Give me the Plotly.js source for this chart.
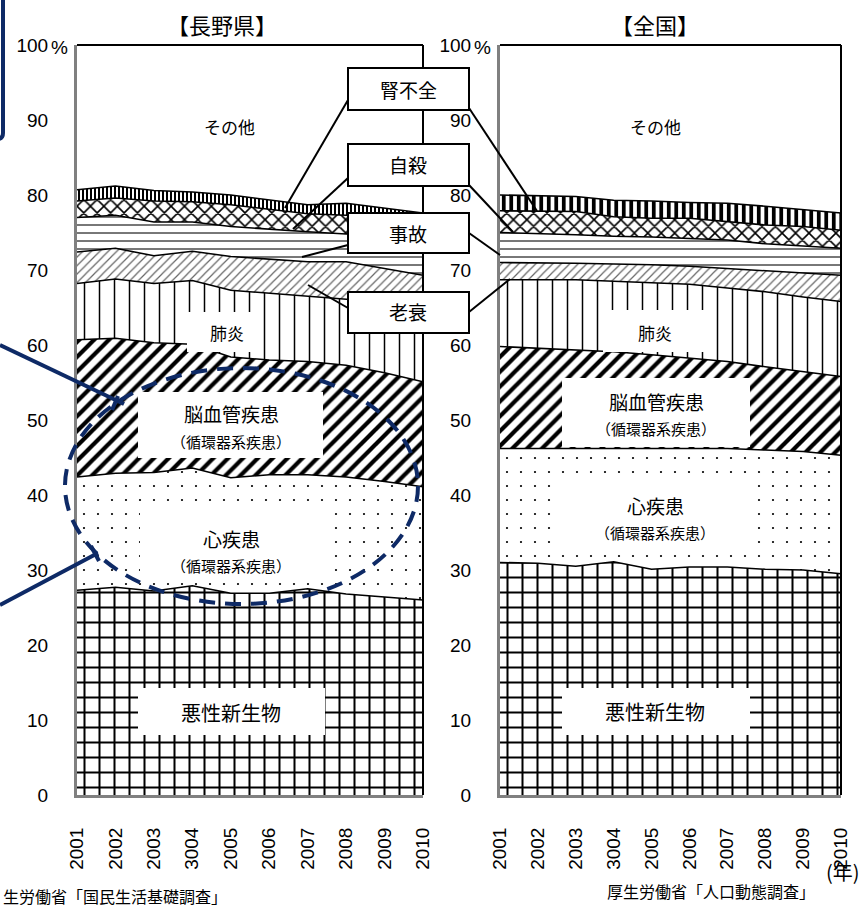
<!DOCTYPE html>
<html><head><meta charset="utf-8">
<script src="https://cdn.plot.ly/plotly-3.0.1.min.js"></script>
<style>html,body{margin:0;padding:0;background:#fff}#chart{width:866px;height:909px}</style>
</head><body><div id="chart"></div>
<script>
// ---- data (percent share of deaths by cause) ----
const yearLabels = ['2001','2002','2003','3004','2005','2006','2007','2008','2009','2010'];
const causeNames = ['悪性新生物','心疾患','脳血管疾患','肺炎','老衰','事故','自殺','腎不全','その他'];

const naganoCancer   = [27.3,27.7,27.2,27.9,26.9,26.9,27.5,26.8,26.4,26.0];
const naganoHeart    = [15.1,15.2,15.8,15.7,15.4,15.8,15.2,15.6,15.4,15.1];
const naganoStroke   = [18.3,18.0,17.3,16.5,16.1,15.3,15.1,14.9,14.5,14.0];
const naganoPneu     = [7.5,7.9,7.9,8.5,8.9,8.9,8.7,8.9,9.5,10.2];
const naganoOldAge   = [4.2,4.1,3.7,3.9,4.5,4.5,4.6,4.9,4.4,4.0];
const naganoAccident = [4.6,4.4,4.5,3.9,4.0,4.0,4.0,3.7,4.3,4.9];
const naganoSuicide  = [2.2,2.3,2.8,2.7,2.9,2.7,2.4,2.5,2.6,2.6];
const naganoRenal    = [1.5,1.6,1.4,1.3,1.3,1.2,1.2,1.6,1.1,0.8];
const naganoOther    = [19.3,18.8,19.4,19.6,20.0,20.7,21.3,21.1,21.8,22.4];

const japanCancer   = [31.0,30.9,30.5,31.1,30.1,30.4,30.4,30.1,30.0,29.5];
const japanHeart    = [15.2,15.3,15.7,15.1,16.0,15.8,15.8,15.9,15.8,15.8];
const japanStroke   = [13.6,13.4,13.1,12.9,12.6,12.0,11.6,11.1,10.6,10.5];
const japanPneu     = [8.9,9.1,9.4,9.4,9.6,9.9,9.8,10.0,10.0,10.0];
const japanOldAge   = [2.3,2.3,2.2,2.3,2.4,2.4,2.6,2.8,3.2,3.5];
const japanAccident = [4.0,3.9,3.8,3.7,3.7,3.7,3.8,3.6,3.6,3.6];
const japanSuicide  = [2.9,3.0,3.1,2.6,2.5,2.7,2.4,2.5,2.6,2.4];
const japanRenal    = [2.1,2.0,2.0,2.2,2.3,2.1,2.5,2.5,2.2,2.3];
const japanOther    = [20.0,20.1,20.2,20.7,20.8,21.0,21.1,21.5,22.0,22.4];

const yTickVals = [0,10,20,30,40,50,60,70,80,90,100];
const yTickText = ['0','10','20','30','40','50','60','70','80','90','100'];

// ---- styles ----
const W = 866, H = 909;
const px = x => x / W;
const py = y => 1 - y / H;
const NAVY = '#0e2a66';
const LAT = 'Liberation Sans, Arial, sans-serif';
const JP = 'Noto Sans CJK JP, sans-serif';

function patterns(renalSize) {
  return [
    {shape:'+', size:15, solidity:0.25, fgcolor:'#000', bgcolor:'#fff'},
    {shape:'.', size:14, solidity:0.02, fgcolor:'#000', bgcolor:'#fff'},
    {shape:'/', size:10.5, solidity:0.4, fgcolor:'#000', bgcolor:'#fff'},
    {shape:'|', size:15, solidity:0.1, fgcolor:'#000', bgcolor:'#fff'},
    {shape:'/', size:6, solidity:0.2, fgcolor:'#666', bgcolor:'#fff'},
    {shape:'-', size:8, solidity:0.2, fgcolor:'#555', bgcolor:'#fff'},
    {shape:'x', size:9.5, solidity:0.3, fgcolor:'#000', bgcolor:'#fff'},
    {shape:'|', size:renalSize, solidity:0.5, fgcolor:'#000', bgcolor:'#fff'},
    null
  ];
}

function buildTraces(series, xa, ya, group, renalSize) {
  const pats = patterns(renalSize);
  return series.map((vals, i) => {
    const t = {
      x: yearLabels, y: vals, name: causeNames[i], type: 'scatter', mode: 'lines',
      stackgroup: group, xaxis: xa, yaxis: ya,
      line: {color: '#000', width: i === 8 ? 0 : 1.6},
      fillcolor: '#ffffff', hoverinfo: 'skip', showlegend: false
    };
    if (pats[i]) t.fillpattern = pats[i];
    return t;
  });
}

const traces = [
  ...buildTraces([naganoCancer,naganoHeart,naganoStroke,naganoPneu,naganoOldAge,naganoAccident,naganoSuicide,naganoRenal,naganoOther],'x','y','nagano',4),
  ...buildTraces([japanCancer,japanHeart,japanStroke,japanPneu,japanOldAge,japanAccident,japanSuicide,japanRenal,japanOther],'x2','y2','japan',7.5)
];

function xAxis(dom, anchor) {
  return {domain: dom, anchor: anchor, type: 'category', range: [0, 9], tickangle: -90,
    showline: true, linecolor: '#808080', linewidth: 3, ticks: '', showgrid: false,
    zeroline: false, ticklabelstandoff: 22, tickfont: {family: LAT, size: 19, color: '#000'}, fixedrange: true};
}
function yAxis(anchor) {
  return {domain: [py(795), py(45)], anchor: anchor, range: [0, 100], tickvals: yTickVals, ticktext: yTickText,
    showline: true, linecolor: '#808080', linewidth: 3, ticks: '', showgrid: false, zeroline: false,
    ticklabelstandoff: 22, tickfont: {family: LAT, size: 19, color: '#000'}, fixedrange: true};
}

function txt(x, y, text, size, family, extra) {
  return Object.assign({xref: 'paper', yref: 'paper', x: px(x), y: py(y), text: text, showarrow: false,
    xanchor: 'center', yanchor: 'middle', font: {family: family || JP, size: size, color: '#000'}}, extra || {});
}
function rect(x0, y0, x1, y1, withBorder) {
  return {type: 'rect', xref: 'paper', yref: 'paper', x0: px(x0), y0: py(y0), x1: px(x1), y1: py(y1),
    fillcolor: '#fff', line: {color: '#000', width: withBorder ? 2 : 0}, layer: 'above'};
}
function seg(x0, y0, x1, y1, color, width, dash) {
  return {type: 'line', xref: 'paper', yref: 'paper', x0: px(x0), y0: py(y0), x1: px(x1), y1: py(y1),
    line: {color: color, width: width, dash: dash || 'solid'}, layer: 'above'};
}

const shapes = [
  // white label backgrounds
  rect(187,312,263,352), rect(138,392,323,458), rect(140,513,325,582), rect(138,688,325,735),
  rect(603,310,708,352), rect(562,378,750,447), rect(560,477,750,550), rect(562,688,750,735),
  // plot frame (top/right)
  seg(77,45,423,45,'#000',2), seg(423,45,423,795,'#000',2),
  seg(500,45,841,45,'#000',2), seg(841,45,841,795,'#000',2),
  // leader lines
  seg(348,100,285,208,'#000',2), seg(469,108,537,211,'#000',2),
  seg(348,178,293,229,'#000',2), seg(469,185,513,232,'#000',2),
  seg(348,245,302,257,'#000',2), seg(469,233,500,255,'#000',2),
  seg(348,308,308,285,'#000',2), seg(469,312,510,279,'#000',2),
  // bordered labels
  rect(348,68,469,110,true), rect(348,144,469,186,true), rect(348,213,469,253,true), rect(348,292,469,333,true),
  // navy highlight ellipse and pointers
  {type: 'circle', xref: 'paper', yref: 'paper', x0: px(65), y0: py(368), x1: px(418), y1: py(604),
    line: {color: NAVY, width: 4, dash: '16px,10px'}, layer: 'above'},
  seg(0,345,124,404,NAVY,4), seg(118,396,112,410,NAVY,4),
  seg(0,605,98,553,NAVY,4), seg(91,546,99,561,NAVY,4),
  {type: 'path', xref: 'paper', yref: 'paper', layer: 'above',
    path: 'M ' + px(3) + ' ' + py(0) + ' L ' + px(3) + ' ' + py(133) + ' Q ' + px(3) + ' ' + py(139) + ' ' + px(-3) + ' ' + py(139),
    line: {color: NAVY, width: 4}}
];

const annotations = [
  txt(222,24,'【長野県】',22), txt(655,24,'【全国】',22),
  txt(59,47,'%',19,LAT), txt(483,47,'%',19,LAT),
  txt(230,126,'その他',17), txt(655,126,'その他',17),
  txt(227,332,'肺炎',17), txt(655,332,'肺炎',17),
  txt(231,413,'脳血管疾患',19), txt(231,441,'（循環器系疾患）',15),
  txt(656,401,'脳血管疾患',19), txt(656,428,'（循環器系疾患）',15),
  txt(231,538,'心疾患',19), txt(231,565,'（循環器系疾患）',15),
  txt(655,505,'心疾患',19), txt(655,532,'（循環器系疾患）',15),
  txt(231,712,'悪性新生物',20), txt(655,711,'悪性新生物',20),
  txt(408,89,'腎不全',19), txt(408,165,'自殺',19), txt(408,233,'事故',19), txt(408,312,'老衰',19),
  txt(843,871,'(年)',20),
  txt(711,891,'厚生労働省「人口動態調査」',16),
  txt(1,896,'生労働省「国民生活基礎調査」',16,JP,{xanchor:'left'})
];

const layout = {
  width: W, height: H, margin: {l: 0, r: 0, t: 0, b: 0},
  paper_bgcolor: '#fff', plot_bgcolor: '#fff', showlegend: false,
  xaxis: xAxis([px(77), px(423)], 'y'), yaxis: yAxis('x'),
  xaxis2: xAxis([px(500), px(841)], 'y2'), yaxis2: yAxis('x2'),
  shapes: shapes, annotations: annotations
};

Plotly.newPlot('chart', traces, layout, {displayModeBar: false, staticPlot: true});
</script></body></html>
